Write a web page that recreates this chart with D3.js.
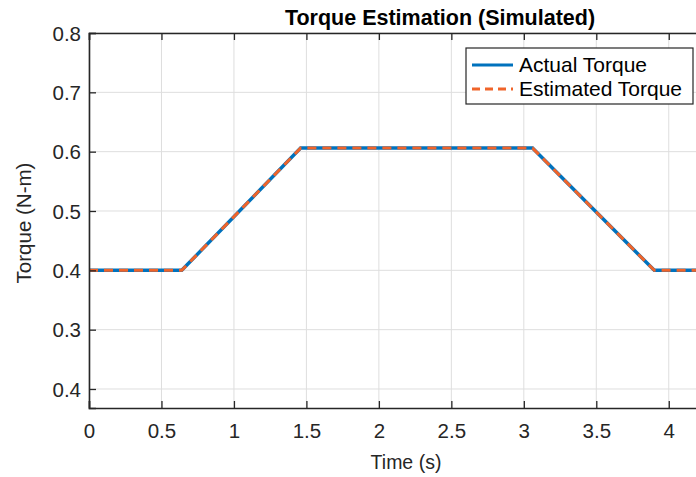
<!DOCTYPE html>
<html>
<head>
<meta charset="utf-8">
<script src="https://cdn.jsdelivr.net/npm/d3@7"></script>
<style>
  body { margin: 0; background: #fff; }
  svg { display: block; font-family: "Liberation Sans", Arial, sans-serif; }
</style>
</head>
<body>
<div id="viz"></div>
<script>
// data
const timeVals = [0, 0.64, 1.46, 3.06, 3.90, 4.25];
const actualTorque = [0.4, 0.4, 0.606, 0.606, 0.4, 0.4];
const estimatedTorque = [0.4, 0.4, 0.606, 0.606, 0.4, 0.4];
const xTicks = [0, 0.5, 1, 1.5, 2, 2.5, 3, 3.5, 4];
const yTicks = [0.2, 0.3, 0.4, 0.5, 0.6, 0.7, 0.8];
const yTickLabels = ['0.4', '0.3', '0.4', '0.5', '0.6', '0.7', '0.8'];
const seriesNames = ['Actual Torque', 'Estimated Torque'];

const width = 696;
const height = 477;
const mLeft = 89, mRight = 705, mTop = 33, mBottom = 408;

const x = d3.scaleLinear().domain([0, 4.25]).range([mLeft, mRight]);
const y = d3.scaleLinear().domain([0.2 - 19 / 593, 0.8]).range([mBottom, mTop]);

const svg = d3.select('#viz')
      .append('svg')
      .attr('width', width)
      .attr('height', height);

// grid
const grid = svg.append('g')
      .attr('stroke', '#dedede')
      .attr('stroke-width', 1);

grid.selectAll('.gx')
    .data(xTicks)
    .join('line')
    .attr('x1', d => x(d))
    .attr('x2', d => x(d))
    .attr('y1', mTop)
    .attr('y2', mBottom);

grid.selectAll('.gy')
    .data(yTicks)
    .join('line')
    .attr('x1', mLeft)
    .attr('x2', mRight)
    .attr('y1', d => y(d))
    .attr('y2', d => y(d));

// lines
const pts = (ys) => timeVals.map((t, i) => [t, ys[i]]);
const line = d3.line().x(d => x(d[0])).y(d => y(d[1]));

svg.append('path')
    .attr('d', line(pts(actualTorque)))
    .attr('fill', 'none')
    .attr('stroke', '#0072BD')
    .attr('stroke-width', 3.5);

svg.append('path')
    .attr('d', line(pts(estimatedTorque)))
    .attr('fill', 'none')
    .attr('stroke', '#F0642A')
    .attr('stroke-width', 3)
    .attr('stroke-dasharray', '9,6');

// axes
const axisColor = '#262626';
const xAxis = d3.axisBottom(x).tickValues(xTicks).tickSize(-7).tickPadding(15)
      .tickFormat(d3.format('~g'));
const gx = svg.append('g')
      .attr('transform', `translate(0 ${mBottom})`)
      .call(xAxis);

const xTop = d3.axisTop(x).tickValues(xTicks).tickSize(-7).tickFormat('');
const gxt = svg.append('g')
      .attr('transform', `translate(0 ${mTop})`)
      .call(xTop);

const yAxis = d3.axisLeft(y).tickValues(yTicks).tickSize(-7).tickPadding(8)
      .tickFormat((d, i) => yTickLabels[i]);
const gy = svg.append('g')
      .attr('transform', `translate(${mLeft} 0)`)
      .call(yAxis);

[gx, gxt, gy].forEach(g => {
  g.select('.domain').attr('stroke', axisColor).attr('stroke-width', 1.6);
  g.selectAll('.tick line').attr('stroke', axisColor).attr('stroke-width', 1.3);
  g.selectAll('.tick text')
      .attr('fill', '#262626')
      .attr('font-size', 20.5)
      .attr('font-family', '"Liberation Sans", Arial, sans-serif');
});
gy.selectAll('.tick text').attr('dy', '0.35em');

// title and labels
svg.append('text')
    .attr('x', 440)
    .attr('y', 25)
    .attr('text-anchor', 'middle')
    .attr('font-size', 21.5)
    .attr('font-weight', 'bold')
    .attr('fill', '#000')
    .text('Torque Estimation (Simulated)');

svg.append('text')
    .attr('x', 406)
    .attr('y', 469)
    .attr('text-anchor', 'middle')
    .attr('font-size', 19.5)
    .attr('fill', '#262626')
    .text('Time (s)');

svg.append('text')
    .attr('transform', `translate(31 223) rotate(-90)`)
    .attr('text-anchor', 'middle')
    .attr('font-size', 20.5)
    .attr('fill', '#262626')
    .text('Torque (N-m)');

// legend
const legend = svg.append('g');
legend.append('rect')
    .attr('x', 466)
    .attr('y', 48)
    .attr('width', 227)
    .attr('height', 56)
    .attr('fill', '#fff')
    .attr('stroke', '#262626')
    .attr('stroke-width', 1.2);

const legendStyles = [
  { color: '#0072BD', dash: null, w: 3 },
  { color: '#F0642A', dash: '8,5', w: 3 }
];
seriesNames.forEach((name, i) => {
  const ly = 65 + i * 24;
  legend.append('line')
      .attr('x1', 472)
      .attr('x2', 513)
      .attr('y1', ly)
      .attr('y2', ly)
      .attr('stroke', legendStyles[i].color)
      .attr('stroke-width', legendStyles[i].w)
      .attr('stroke-dasharray', legendStyles[i].dash);
  legend.append('text')
      .attr('x', 519)
      .attr('y', ly + 7)
      .attr('font-size', 21)
      .attr('fill', '#000')
      .text(name);
});
</script>
</body>
</html>
